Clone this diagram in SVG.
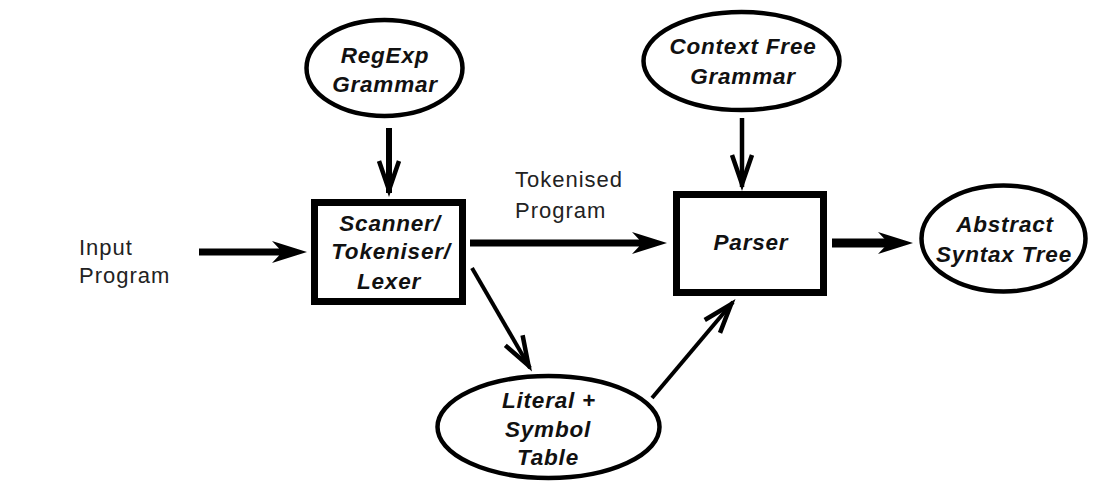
<svg xmlns="http://www.w3.org/2000/svg" width="1100" height="493" viewBox="0 0 1100 493">
<style>
.node{fill:#fff;stroke:#000}
.box{stroke-width:7}
.ell{stroke-width:4.5}
.nl{font-family:"Liberation Sans",Arial,sans-serif;font-size:22.5px;font-weight:bold;font-style:italic;letter-spacing:0.8px;text-anchor:middle;fill:#111}
.pl{font-family:"Liberation Sans",Arial,sans-serif;font-size:22px;letter-spacing:1px;fill:#222}
.heavy{stroke:#000;fill:none}
.thin{stroke:#000;fill:none}
</style>
<defs>
<marker id="hh" markerUnits="userSpaceOnUse" markerWidth="60" markerHeight="40" refX="0" refY="0" orient="auto" overflow="visible">
<path d="M20,0 L-15,-11 L-8,-3.5 L-8,3.5 L-15,11 Z" fill="#000"/>
</marker>
<marker id="ov" markerUnits="userSpaceOnUse" markerWidth="60" markerHeight="40" refX="0" refY="0" orient="auto" overflow="visible">
<path d="M-32,-10 L-3,0 L-32,10" fill="none" stroke="#000" stroke-width="4.5" stroke-linejoin="miter"/>
</marker>
</defs>
<rect width="1100" height="493" fill="#fff"/>

<g id="connectors">
<line class="heavy" x1="199" y1="252" x2="287" y2="252" stroke-width="7" marker-end="url(#hh)"/>
<line class="heavy" x1="470" y1="243" x2="647" y2="243" stroke-width="7" marker-end="url(#hh)"/>
<line class="heavy" x1="832" y1="243" x2="893" y2="243" stroke-width="9" marker-end="url(#hh)"/>
<line class="thin" x1="389" y1="128" x2="389" y2="193" stroke-width="6" marker-end="url(#ov)"/>
<line class="thin" x1="742" y1="118" x2="742" y2="187" stroke-width="4.5" marker-end="url(#ov)"/>
<line class="thin" x1="472" y1="268" x2="530" y2="368" stroke-width="4" marker-end="url(#ov)"/>
<line class="thin" x1="652" y1="398" x2="733" y2="302" stroke-width="4" marker-end="url(#ov)"/>
</g>

<g id="regexp">
<ellipse class="node ell" cx="384.5" cy="68" rx="78" ry="48"/>
<text class="nl" x="385" y="63">RegExp</text>
<text class="nl" x="385" y="92">Grammar</text>
</g>

<g id="cfg">
<ellipse class="node ell" cx="741.5" cy="61" rx="98" ry="49"/>
<text class="nl" x="743" y="54">Context Free</text>
<text class="nl" x="743" y="84">Grammar</text>
</g>

<g id="scanner">
<rect class="node box" x="314.5" y="202.5" width="148" height="99"/>
<text class="nl" x="390" y="231">Scanner/</text>
<text class="nl" x="391" y="259">Tokeniser/</text>
<text class="nl" x="389" y="289">Lexer</text>
</g>

<g id="parser">
<rect class="node box" x="676.5" y="194.5" width="147" height="98"/>
<text class="nl" x="751" y="250">Parser</text>
</g>

<g id="ast">
<ellipse class="node ell" cx="1003.5" cy="238.5" rx="82" ry="53"/>
<text class="nl" x="1005" y="232">Abstract</text>
<text class="nl" x="1004" y="262">Syntax Tree</text>
</g>

<g id="symtab">
<ellipse class="node ell" cx="548.5" cy="427" rx="111" ry="51"/>
<text class="nl" x="549" y="408">Literal +</text>
<text class="nl" x="548" y="437">Symbol</text>
<text class="nl" x="548" y="465">Table</text>
</g>

<g id="labels">
<text class="pl" x="79" y="255">Input</text>
<text class="pl" x="79" y="283">Program</text>
<text class="pl" x="515" y="187">Tokenised</text>
<text class="pl" x="515" y="218">Program</text>
</g>
</svg>
